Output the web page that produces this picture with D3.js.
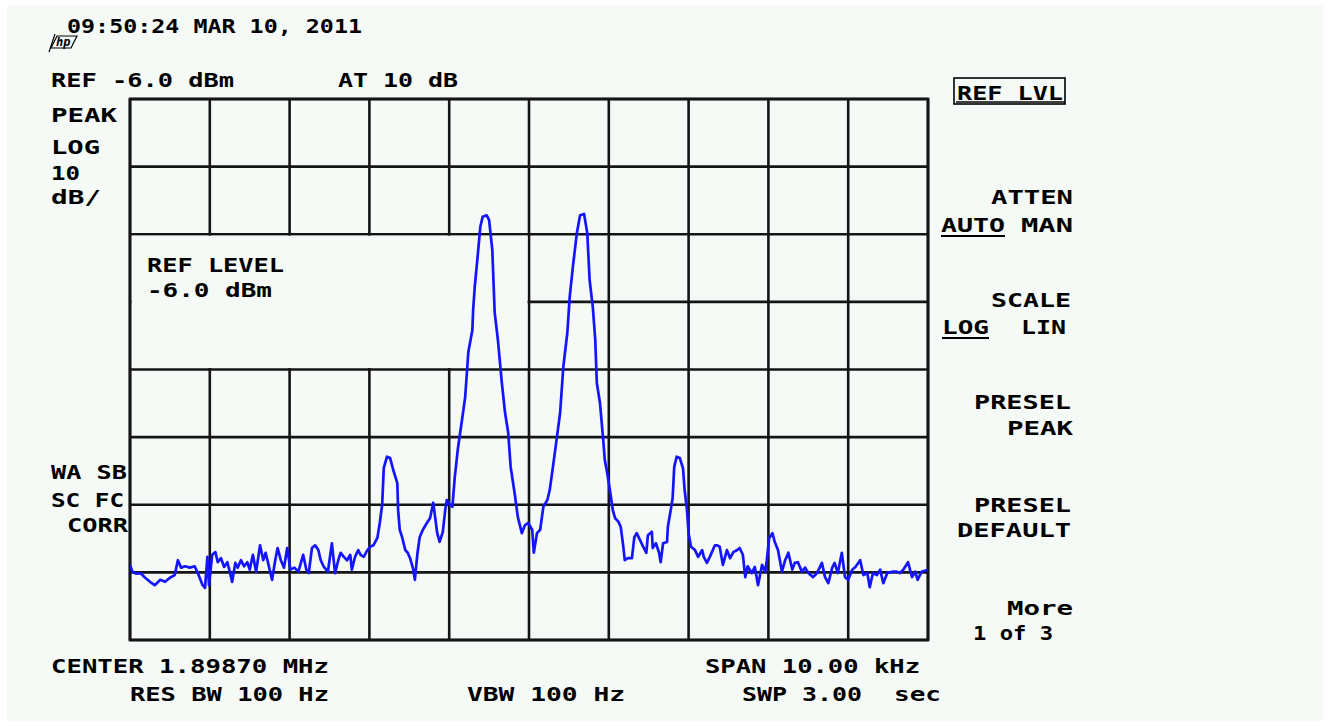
<!DOCTYPE html>
<html>
<head>
<meta charset="utf-8">
<script src="https://cdn.jsdelivr.net/npm/d3@7"></script>
<style>
  html, body { margin: 0; padding: 0; background: #ffffff; }
  svg { display: block; }
  text { font-family: "DejaVu Sans Mono", "Liberation Mono", monospace; font-weight: bold; fill: #000; }
</style>
</head>
<body>
<script>
// ---- instrument settings ----
const centerMHz = 1.89870;
const spanKHz = 10;
const refLevelDbm = -6;
const dbPerDiv = 10;
const divsX = 10;
const divsY = 8;

// ---- trace: frequency offset from center (kHz) and level (dBm) ----
const freqKHz = [
  -5.00,-4.97,-4.92,-4.87,-4.81,-4.75,-4.69,-4.62,-4.56,-4.50,-4.44,-4.40,-4.36,-4.31,-4.25,-4.19,-4.15,-4.09,-4.06,-4.03,
  -4.01,-3.97,-3.93,-3.90,-3.86,-3.82,-3.78,-3.75,-3.72,-3.68,-3.65,-3.61,-3.57,-3.53,-3.50,-3.46,-3.42,-3.37,-3.33,-3.30,
  -3.26,-3.22,-3.18,-3.15,-3.11,-3.07,-3.03,-2.99,-2.94,-2.89,-2.83,-2.79,-2.76,-2.72,-2.68,-2.64,-2.61,-2.57,-2.52,-2.47,
  -2.43,-2.39,-2.36,-2.32,-2.28,-2.24,-2.22,-2.18,-2.14,-2.11,-2.07,-2.03,-1.99,-1.95,-1.90,-1.87,-1.84,-1.82,-1.78,-1.74,
  -1.70,-1.65,-1.64,-1.62,-1.59,-1.55,-1.52,-1.49,-1.45,-1.43,-1.40,-1.37,-1.33,-1.28,-1.24,-1.20,-1.15,-1.12,-1.08,-1.05,
  -1.03,-0.99,-0.96,-0.93,-0.89,-0.84,-0.80,-0.76,-0.71,-0.70,-0.68,-0.65,-0.61,-0.58,-0.53,-0.50,-0.46,-0.43,-0.39,-0.34,
  -0.30,-0.26,-0.23,-0.18,-0.14,-0.09,-0.05,-0.01,0.04,0.06,0.10,0.14,0.18,0.23,0.26,0.30,0.35,0.39,0.43,0.48,
  0.51,0.55,0.60,0.64,0.69,0.73,0.76,0.80,0.83,0.85,0.89,0.93,0.95,0.98,1.02,1.05,1.08,1.12,1.15,1.18,
  1.20,1.24,1.29,1.32,1.35,1.39,1.43,1.47,1.49,1.54,1.55,1.59,1.63,1.65,1.68,1.73,1.74,1.78,1.80,1.82,
  1.85,1.89,1.93,1.95,1.98,2.00,2.03,2.08,2.12,2.17,2.19,2.23,2.27,2.33,2.36,2.39,2.43,2.48,2.52,2.56,
  2.61,2.64,2.68,2.71,2.74,2.79,2.83,2.87,2.92,2.96,2.98,3.01,3.05,3.08,3.12,3.17,3.21,3.25,3.30,3.33,
  3.37,3.42,3.46,3.50,3.56,3.61,3.67,3.71,3.75,3.80,3.83,3.87,3.92,3.96,4.00,4.05,4.09,4.15,4.19,4.24,
  4.27,4.31,4.36,4.40,4.44,4.49,4.55,4.61,4.65,4.69,4.75,4.80,4.84,4.87,4.92,5.00
];
const levelDbm = [
  -74.9,-75.9,-76.2,-76.1,-76.8,-77.4,-77.9,-77.1,-77.4,-76.8,-76.4,-74.2,-75.3,-75.1,-75.3,-75.1,-76.1,-77.9,-78.3,-73.7,
  -77.9,-73.4,-73.0,-74.5,-73.9,-75.2,-74.5,-75.9,-77.4,-74.6,-75.3,-74.2,-75.1,-74.5,-75.6,-73.4,-75.9,-72.0,-74.2,-73.1,
  -75.1,-77.1,-74.2,-72.4,-74.2,-75.3,-72.4,-75.6,-75.3,-75.9,-73.4,-75.6,-76.1,-72.4,-72.0,-72.7,-74.2,-75.2,-75.9,-71.7,
  -76.1,-74.2,-73.1,-73.7,-74.2,-73.4,-75.6,-73.7,-72.7,-73.4,-73.7,-72.8,-72.2,-72.0,-70.9,-68.7,-66.0,-60.6,-58.9,-59.1,
  -60.9,-62.8,-66.8,-69.7,-70.8,-72.7,-73.1,-73.9,-75.6,-77.1,-73.4,-70.8,-69.7,-68.7,-68.0,-65.7,-70.2,-71.5,-70.0,-66.8,
  -65.3,-66.0,-66.3,-61.9,-57.6,-53.5,-50.1,-43.4,-40.2,-37.2,-33.8,-30.1,-24.9,-23.4,-23.2,-23.9,-28.3,-37.6,-41.6,-48.0,
  -52.4,-55.4,-60.4,-64.3,-67.8,-70.2,-69.0,-68.7,-69.7,-73.1,-70.2,-69.7,-66.3,-65.3,-63.8,-60.4,-56.0,-52.4,-45.6,-40.6,
  -35.3,-30.8,-25.8,-23.2,-23.0,-25.8,-32.8,-36.8,-41.6,-48.0,-51.0,-56.4,-59.4,-61.3,-64.3,-66.8,-68.0,-68.5,-69.3,-72.0,
  -74.2,-73.9,-73.9,-70.8,-70.2,-71.2,-72.2,-73.1,-70.5,-70.0,-72.4,-71.7,-73.1,-74.5,-71.7,-71.5,-69.3,-66.5,-65.0,-60.4,
  -58.9,-59.1,-60.6,-63.8,-66.8,-70.2,-72.2,-72.7,-73.7,-72.7,-73.7,-74.6,-73.6,-72.0,-72.0,-72.2,-74.9,-72.7,-73.9,-73.0,
  -72.7,-72.4,-73.4,-76.7,-75.1,-76.1,-75.2,-77.9,-74.9,-75.9,-74.2,-70.9,-70.2,-71.5,-72.7,-75.9,-74.2,-73.1,-75.6,-74.6,
  -74.5,-75.9,-75.3,-76.1,-76.7,-76.1,-74.6,-76.7,-77.6,-75.3,-74.6,-76.1,-73.1,-76.7,-77.1,-75.6,-75.2,-74.2,-76.4,-76.1,
  -78.2,-76.1,-76.4,-75.6,-77.6,-76.1,-75.9,-75.9,-76.1,-75.6,-74.5,-76.7,-75.9,-77.1,-75.9,-75.6
];

// ---- screen annotations ----
const timeStamp = "09:50:24 MAR 10, 2011";
const leftLabels = ["PEAK", "LOG", "10", "dB/"];
const sideLabels = ["WA SB", "SC FC", "CORR"];
const softKeys = ["ATTEN", "AUTO MAN", "SCALE", "LOG  LIN", "PRESEL", "PEAK", "PRESEL", "DEFAULT", "More", "1 of 3"];

const W = 1330, H = 726;
const svg = d3.select("body").append("svg").attr("width", W).attr("height", H);

// background panel
svg.append("rect").attr("x", 0).attr("y", 0).attr("width", W).attr("height", H).attr("fill", "#ffffff");
svg.append("rect").attr("x", 7).attr("y", 5).attr("width", W - 14).attr("height", H - 10).attr("fill", "#f5faf7");

const plot = { left: 130, right: 928, top: 99, bottom: 640 };
const x = d3.scaleLinear().domain([-spanKHz / 2, spanKHz / 2]).range([plot.left, plot.right]);
const bottomLevel = refLevelDbm - dbPerDiv * divsY;
const y = d3.scaleLinear().domain([bottomLevel, refLevelDbm]).range([plot.bottom, plot.top]);

const xTicks = d3.range(0, divsX + 1).map(i => -spanKHz / 2 + i * spanKHz / divsX);
const yTicks = d3.range(0, divsY + 1).map(i => bottomLevel + i * dbPerDiv);

const gridColor = "#151515";
const grid = svg.append("g").attr("stroke", gridColor).attr("stroke-width", 2.6);
grid.selectAll("line.v").data(xTicks).join("line")
  .attr("x1", d => x(d)).attr("x2", d => x(d))
  .attr("y1", plot.top).attr("y2", plot.bottom);
grid.selectAll("line.h").data(yTicks).join("line")
  .attr("y1", d => y(d)).attr("y2", d => y(d))
  .attr("x1", plot.left).attr("x2", plot.right);

// annotation box that blanks the graticule (REF LEVEL readout): 2nd..4th division from top, left half
svg.append("rect")
  .attr("x", x(-5) + 1.5).attr("y", y(-26) + 1.5)
  .attr("width", x(0) - x(-5) - 3).attr("height", y(-46) - y(-26) - 3)
  .attr("fill", "#f5faf7");

// outer border
svg.append("rect").attr("x", plot.left).attr("y", plot.top)
  .attr("width", plot.right - plot.left).attr("height", plot.bottom - plot.top)
  .attr("fill", "none").attr("stroke", gridColor).attr("stroke-width", 2.8);

// trace
const data = freqKHz.map((f, i) => ({ f, v: levelDbm[i] }));
svg.append("clipPath").attr("id", "clip").append("rect")
  .attr("x", plot.left).attr("y", plot.top).attr("width", plot.right - plot.left).attr("height", plot.bottom - plot.top);
svg.append("path").datum(data)
  .attr("clip-path", "url(#clip)")
  .attr("fill", "none").attr("stroke", "#1414ff").attr("stroke-width", 2.7)
  .attr("stroke-linejoin", "round")
  .attr("d", d3.line().x(d => x(d.f)).y(d => y(d.v)));

// text helper: x, baseline y, width (textLength)
function label(t, x0, yb, w, anchor) {
  const el = svg.append("text").attr("y", yb).attr("font-size", 19).text(t);
  if (anchor === "end") el.attr("x", x0 - w); else el.attr("x", x0);
  el.attr("textLength", w).attr("lengthAdjust", "spacingAndGlyphs");
  return el;
}

label(timeStamp, 67, 33, 295);
label("REF " + refLevelDbm.toFixed(1) + " dBm", 51, 87, 183);
label("AT 10 dB", 338, 87, 120);
const leftY = [122, 154, 180, 204];
const leftW = [66, 49, 29, 50];
leftLabels.forEach((t, i) => label(t, 51, leftY[i], leftW[i]));
label("REF LEVEL", 147, 272, 137);
label(refLevelDbm.toFixed(1) + " dBm", 147, 297, 125);
const sideY = [479, 507, 532];
const sideX = [51, 51, 67];
const sideW = [76, 73, 61];
sideLabels.forEach((t, i) => label(t, sideX[i], sideY[i], sideW[i]));

label("CENTER " + centerMHz.toFixed(5) + " MHz", 51, 673, 278);
label("SPAN " + spanKHz.toFixed(2) + " kHz", 705, 673, 215);
label("RES BW 100 Hz", 130, 701, 199);
label("VBW 100 Hz", 467, 701, 158);
label("SWP 3.00", 742, 701, 120);
label("sec", 894, 701, 47);

// soft keys (right column)
svg.append("rect").attr("x", 954).attr("y", 78).attr("width", 111).attr("height", 26)
  .attr("fill", "none").attr("stroke", "#000").attr("stroke-width", 1.6);
svg.append("line").attr("x1", 956).attr("x2", 1065).attr("y1", 102).attr("y2", 102)
  .attr("stroke", "#000").attr("stroke-width", 1.4);
label("REF LVL", 957, 100, 106);

const skRight = 1073;
label(softKeys[0], skRight, 204, 82, "end");
label("AUTO", 941, 232, 64);
label("MAN", skRight, 232, 52, "end");
svg.append("line").attr("x1", 941).attr("x2", 1005).attr("y1", 236).attr("y2", 236).attr("stroke", "#000").attr("stroke-width", 2);
label(softKeys[2], 1071, 307, 80, "end");
label("LOG", 942, 334, 47);
label("LIN", 1066, 334, 45, "end");
svg.append("line").attr("x1", 942).attr("x2", 989).attr("y1", 338).attr("y2", 338).attr("stroke", "#000").attr("stroke-width", 2);
label(softKeys[4], 1071, 409, 97, "end");
label(softKeys[5], skRight, 435, 66, "end");
label(softKeys[6], 1071, 512, 97, "end");
label(softKeys[7], 1071, 537, 114, "end");
label(softKeys[8], skRight, 615, 66, "end");
label(softKeys[9], 1053, 640, 80, "end");

// small maker logo under the timestamp
const logo = svg.append("g").attr("transform", "translate(47,34)");
logo.append("path").attr("d", "M10,2 L30,2 L24,14 L4,14 Z").attr("fill", "none").attr("stroke", "#000").attr("stroke-width", 1.2);
logo.append("text").attr("x", 9).attr("y", 12).attr("font-size", 12).attr("font-style", "italic").text("hp");
logo.append("line").attr("x1", 8).attr("y1", 0).attr("x2", 2).attr("y2", 18).attr("stroke", "#000").attr("stroke-width", 1.2);
</script>
</body>
</html>
